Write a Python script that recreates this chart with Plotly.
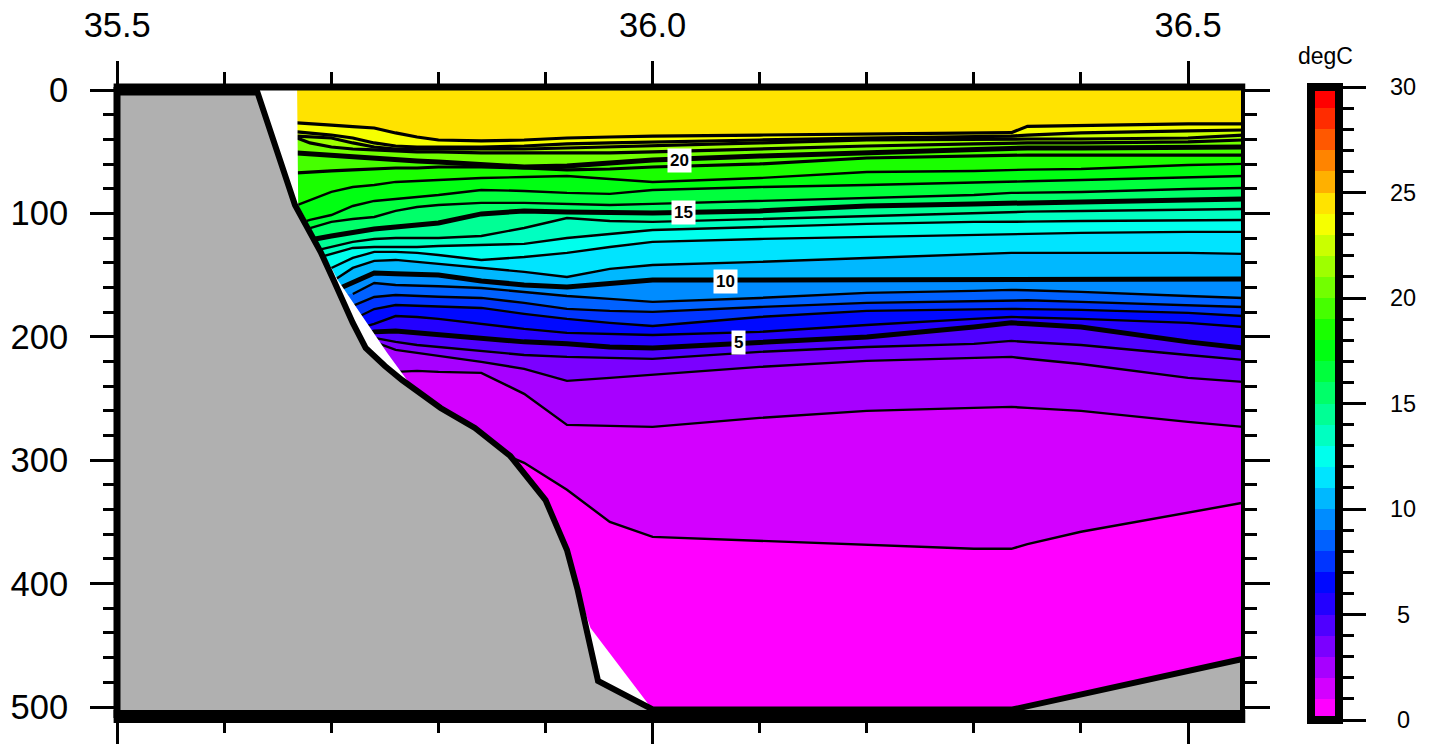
import plotly.graph_objects as go

# Cross-section data: longitude stations and isotherm depths
stations = [35.668, 35.68, 35.70, 35.72, 35.74, 35.76, 35.78, 35.80, 35.84, 35.88,
            35.92, 35.96, 36.0, 36.1, 36.2, 36.3, 36.335, 36.35, 36.4, 36.5, 36.5513]

iso_24 = [26.7, 27.1, 28.4, 29.6, 30.8, 34.8, 38.1, 40.5, 41.3, 40.5, 38.9, 38.1, 37.3, 36.5, 35.6, 34.8, 34.6, 29.4, 28.6, 27.5, 27.5]
iso_23 = [34, 34.8, 36.5, 38.9, 42.9, 45.4, 46.2, 46.2, 46.2, 45.4, 43.7, 42.9, 42.1, 40.5, 38.9, 38.1, 37.3, 36.5, 34.8, 33.2, 32.4]
iso_22 = [37.3, 38.1, 38.9, 42.9, 46.2, 47.8, 47.8, 47.8, 47.8, 47.8, 47, 46.2, 45.4, 42.9, 40.5, 39.7, 39.7, 39.7, 39.7, 38.9, 36.5]
iso_21 = [38.9, 42.9, 46.2, 47.8, 48.6, 49.4, 50.2, 50.2, 51, 51, 51, 51, 50.2, 47.8, 45.4, 43.7, 42.9, 42.9, 42.9, 42.1, 40.5]
iso_20 = [51, 51.8, 52.7, 53.5, 55.1, 56.7, 57.5, 58.3, 60.8, 62.4, 61.6, 59.1, 56.7, 53.5, 51, 47.8, 47, 47, 47, 46.2, 46.2]
iso_19 = [67.2, 66.4, 65.6, 64.8, 64, 63.2, 63.2, 62.4, 62.4, 63.2, 64.8, 64, 62.4, 59.9, 55.1, 53.5, 52.7, 52.7, 52.7, 52.7, 52.7]
iso_18 = [93.2, 89.1, 82.6, 78.6, 77, 74.5, 73.7, 72.9, 71.3, 70.5, 69.7, 72.1, 74.5, 71.3, 66.4, 65.6, 64.8, 64.5, 64, 60.8, 59.9]
iso_17 = [108.6, 105.3, 101.3, 94, 89.9, 88.3, 86.7, 85.1, 81, 81.8, 83.4, 84.2, 81, 78.6, 77, 75.3, 74.5, 74, 72.9, 70.5, 69.7]
iso_16 = [115, 111.8, 106.9, 104.5, 102.9, 98, 94.8, 93.2, 91.5, 91.5, 92.3, 93.2, 92.3, 89.9, 87.5, 85.1, 83.4, 83.2, 82.6, 80.2, 79.4]
iso_15 = [125.6, 121.5, 118.3, 115, 112.6, 111, 109.4, 107.7, 100.4, 98, 98.8, 99.6, 99.6, 98, 94, 92.3, 91.5, 91.3, 90.7, 89.1, 88.3]
iso_14 = [None, 131.2, 127.2, 123.1, 120.7, 119.9, 119.9, 119.9, 118.3, 111.8, 103.7, 106.1, 106.9, 104.5, 102.1, 99.6, 98.8, 98.6, 98, 97.2, 96.4]
iso_13 = [None, 137.7, 132.8, 128, 127.2, 127.2, 127.2, 126.4, 125.6, 124.7, 119.9, 116.6, 113.4, 111, 108.5, 106.9, 106.9, 106.7, 106.1, 105.3, 105.3]
iso_12 = [None, 154, 144.2, 136.1, 131.2, 131.2, 132, 133.7, 137.7, 135.3, 132, 127.2, 123.1, 120.7, 119.1, 117.5, 116.6, 116.4, 115.8, 115, 115]
iso_11 = [None, None, 155.5, 144.2, 138.5, 137.7, 139.3, 140.9, 144.2, 147.4, 151.5, 145, 141.8, 139.3, 136.1, 132.8, 132, 132, 132, 132, 132.8]
iso_10 = [None, None, 163.7, 156.4, 148.3, 149, 149, 149.9, 154.7, 158, 159.6, 157.1, 153.9, 153.9, 153.9, 153.9, 153.9, 153.9, 153.9, 153.9, 153.1]
iso_09 = [None, None, None, 165.3, 156.4, 158, 158.8, 159, 160.4, 163.6, 166.9, 169.3, 171.7, 168.5, 164.4, 162.8, 162, 162.3, 163.6, 166.9, 168.5]
iso_08 = [None, None, None, 175, 167.7, 166.1, 166.9, 167.5, 168.5, 172.5, 177.4, 179, 179.8, 175.8, 172.5, 170.9, 170.1, 170.4, 171.7, 174.2, 175.8]
iso_07 = [None, None, None, 186, 177.5, 174.2, 175, 175.5, 176.6, 181.4, 185.5, 188.7, 191.2, 183.9, 179, 177.4, 177.4, 177.6, 178.2, 180.6, 183.1]
iso_06 = [None, None, None, 194.5, 189.5, 183.2, 184, 185.5, 189.5, 193.6, 196.8, 197.6, 198.5, 196, 190.4, 185.5, 183.9, 184.3, 185.5, 188.7, 192]
iso_05 = [None, None, None, 202.6, 196, 195.3, 196.9, 198.2, 200.9, 204.1, 205.7, 208.2, 209, 204.1, 200.1, 192, 188.7, 189.5, 192, 204.1, 209]
iso_04 = [None, None, None, None, 200.9, 204.1, 206.6, 208.2, 211.4, 214.7, 216.3, 217.1, 217.9, 212.2, 208.2, 205.7, 203.3, 204.2, 206.6, 214.7, 218.7]
iso_03 = [None, None, None, None, 204.1, 210.6, 213, 215.5, 220.3, 226, 235.7, 233.3, 230.9, 224.4, 219.5, 217.1, 216.3, 217.8, 222, 233.3, 236.5]
iso_02 = [None, None, None, None, None, 228.4, 227.6, 228.4, 229.2, 246.2, 271.4, 272.2, 273, 265.7, 260, 257.6, 256.8, 257.6, 260, 268.9, 273]
iso_01 = [None, None, None, None, None, None, None, None, 287.6, 302.1, 324, 350, 362.1, 365.3, 368.6, 371.8, 371.8, 368, 358, 342.6, 334.5]

isotherms = [iso_01, iso_02, iso_03, iso_04, iso_05, iso_06, iso_07, iso_08, iso_09, iso_10, iso_11, iso_12,
             iso_13, iso_14, iso_15, iso_16, iso_17, iso_18, iso_19, iso_20, iso_21, iso_22, iso_23, iso_24]

# Sea floor outline
land_lon = [35.5, 35.631, 35.666, 35.69, 35.702, 35.72, 35.732, 35.75, 35.766, 35.802, 35.834, 35.867, 35.9, 35.92, 35.93, 35.949, 36.0, 36.336, 36.5513]
land_depth = [2, 2, 93.2, 131.3, 154, 188.8, 209, 223.7, 235, 257.7, 273.9, 296.6, 332.3, 372.8, 405.2, 478.9, 502, 502, 461]

# Edge of the interpolated data next to the slope (white gap between it and the floor)
edge_lon = [35.668, 35.669, 35.706, 35.727, 35.752, 35.774, 35.802, 35.834, 35.867, 35.9, 35.92, 35.93, 35.942, 35.998]
edge_depth = [0, 93.2, 154, 180.7, 213, 239, 257.7, 273.9, 296.6, 332.3, 372.8, 405.2, 436, 500]

# Colour table: one colour per degree, 0-1 up to 29-30
band_colors = ["#ff00ff", "#d300ff", "#a700ff", "#7b00ff", "#4f00ff", "#2300ff", "#0009ff", "#0035ff", "#0061ff", "#008cff",
               "#00b8ff", "#00e4ff", "#00ffed", "#00ffc1", "#00ff95", "#00ff69", "#00ff3d", "#00ff12", "#1aff00", "#46ff00",
               "#72ff00", "#9eff00", "#caff00", "#f6ff00", "#ffe300", "#ffb000", "#ff8400", "#ff5800", "#ff2c00", "#ff0000"]
band_mids = [i + 0.5 for i in range(30)]

label_levels = ["20", "15", "10", "5"]
label_lon = [36.025, 36.029, 36.068, 36.08]
label_depth = [57.5, 98.9, 154.8, 205]

x_major = [35.5, 36.0, 36.5]
x_labels = ["35.5", "36.0", "36.5"]
y_major = [0, 100, 200, 300, 400, 500]
cbar_major = [0, 5, 10, 15, 20, 25, 30]

W, H = 1432, 744
FONT = "Liberation Sans"
PL, PR, PT, PB = 117, 1243, 87, 718
CL, CR, CT, CB = 1311, 1339, 87, 720
XMIN, XMAX = 35.5, 36.5513
DMIN, DMAX = -2.43, 508.9
GREY = "#b0b0b0"

fig = go.Figure()

def polygon(xs, ys, color):
    fig.add_trace(go.Scatter(x=xs, y=ys, mode="lines", fill="toself", fillcolor=color,
                             line=dict(width=0, color=color), hoverinfo="skip", showlegend=False))

# Deepest band first, then each warmer band paints everything above its lower isotherm
polygon([XMIN, XMAX, XMAX, XMIN], [0, 0, 500, 500], band_colors[0])
for level, depths in enumerate(isotherms, start=1):
    pts = [(x, d) for x, d in zip(stations, depths) if d is not None]
    xs = [XMIN] + [p[0] for p in pts] + [XMAX, XMIN]
    ys = [pts[0][1]] + [p[1] for p in pts] + [0, 0]
    polygon(xs, ys, band_colors[level])

for level, depths in enumerate(isotherms, start=1):
    pts = [(x, d) for x, d in zip(stations, depths) if d is not None]
    width = 5 if level % 5 == 0 else (3.2 if level > 18 else 2.4)
    fig.add_trace(go.Scatter(x=[p[0] for p in pts], y=[p[1] for p in pts], mode="lines",
                             line=dict(color="black", width=width), hoverinfo="skip", showlegend=False))

# White gap, then the grey floor with its outline
polygon(edge_lon + [XMIN, XMIN], edge_depth + [500, 0], "#ffffff")
polygon(land_lon + [XMAX, XMIN], land_depth + [DMAX, DMAX], GREY)
fig.add_trace(go.Scatter(x=land_lon + [XMAX], y=land_depth + [DMAX], mode="lines",
                         line=dict(color="black", width=6), hoverinfo="skip", showlegend=False))

# Colour bar as its own small axes
fig.add_trace(go.Heatmap(x=[0], y=band_mids, z=[[m] for m in band_mids], xaxis="x2", yaxis="y2",
                         zmin=0, zmax=30, showscale=False, hoverinfo="skip",
                         colorscale=[p for i, c in enumerate(band_colors) for p in ([i / 30, c], [(i + 1) / 30, c])]))

annotations = [dict(x=x, y=d, xref="x", yref="y", text="<b>%s</b>" % t, showarrow=False, bgcolor="white", borderpad=2,
                    font=dict(family=FONT, size=17, color="black"))
               for t, x, d in zip(label_levels, label_lon, label_depth)]
annotations += [dict(x=1403 / W, y=v, xref="paper", yref="y2", text=str(v), showarrow=False, xanchor="center",
                     font=dict(family=FONT, size=23.5, color="black")) for v in cbar_major]
annotations.append(dict(x=1325 / W, y=(H - 56) / H, xref="paper", yref="paper", text="degC", showarrow=False,
                        xanchor="center", yanchor="middle", font=dict(family=FONT, size=23, color="black")))

frame = dict(type="line", layer="above", line=dict(color="black"))
shapes = [
    dict(frame, xref="x domain", yref="y domain", x0=-0.003, x1=1.002, y0=1, y1=1, line=dict(color="black", width=7)),
    dict(frame, xref="x domain", yref="y domain", x0=-0.003, x1=1.002, y0=0.0024, y1=0.0024, line=dict(color="black", width=13)),
    dict(frame, xref="x domain", yref="y domain", x0=0, x1=0, y0=0, y1=1, line=dict(color="black", width=7)),
    dict(frame, xref="x domain", yref="y domain", x0=1, x1=1, y0=0, y1=1, line=dict(color="black", width=4)),
    dict(type="rect", layer="above", xref="x2 domain", yref="y2 domain", x0=0, x1=1, y0=0, y1=1,
         line=dict(color="black", width=8)),
]

fig.update_layout(
    width=W, height=H, margin=dict(l=0, r=0, t=0, b=0, autoexpand=False), paper_bgcolor="white", plot_bgcolor="white",
    showlegend=False, annotations=annotations, shapes=shapes,
    font=dict(family=FONT, color="black"),
    xaxis=dict(domain=[PL / W, PR / W], range=[XMIN - 0.0002, XMAX], side="top", anchor="y", showgrid=False, zeroline=False,
               automargin=False,
               tickmode="array", tickvals=x_major, ticktext=x_labels, ticks="outside", ticklen=25, tickwidth=2.5,
               tickcolor="black", mirror="allticks", showline=False, ticklabelstandoff=10,
               tickfont=dict(family=FONT, size=34.5, color="black"),
               minor=dict(dtick=0.1, tick0=35.5, ticks="outside", ticklen=14, tickwidth=2.5, tickcolor="black")),
    yaxis=dict(domain=[(H - PB) / H, (H - PT) / H], range=[DMAX, DMIN], anchor="x", showgrid=False, zeroline=False,
               automargin=False,
               tickmode="array", tickvals=y_major, ticks="outside", ticklen=26, tickwidth=2.5,
               tickcolor="black", mirror="allticks", showline=False, ticklabelstandoff=15,
               tickfont=dict(family=FONT, size=34.5, color="black"),
               minor=dict(dtick=20, tick0=0, ticks="outside", ticklen=13, tickwidth=2.5, tickcolor="black")),
    xaxis2=dict(domain=[CL / W, CR / W], range=[-0.5, 0.5], anchor="y2", showticklabels=False, ticks="",
                automargin=False, showgrid=False, zeroline=False, showline=False),
    yaxis2=dict(domain=[(H - CB) / H, (H - CT) / H], range=[0, 30], anchor="x2", side="right", showgrid=False, zeroline=False,
                automargin=False,
                tickmode="array", tickvals=cbar_major, showticklabels=False, ticks="outside", ticklen=26, tickwidth=2.5,
                tickcolor="black", showline=False,
                minor=dict(dtick=1, tick0=0, ticks="outside", ticklen=14, tickwidth=2.5, tickcolor="black")),
)

fig.write_html("out.html", config=dict(displayModeBar=False),
               post_script="document.body.style.margin='0';document.body.style.overflow='hidden';")
